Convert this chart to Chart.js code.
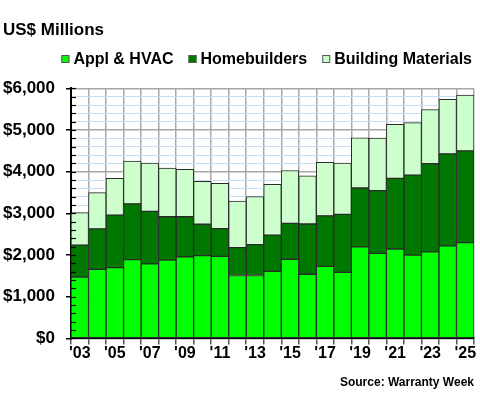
<!DOCTYPE html>
<html>
<head>
<meta charset="utf-8">
<script src="https://cdn.jsdelivr.net/npm/chart.js@4"></script>
<style>
  html, body { margin: 0; padding: 0; background: #fff; }
  #wrap { width: 480px; height: 400px; }
</style>
</head>
<body>
<div id="wrap"><canvas id="warrantyChart"></canvas></div>
<script>
// 数据
const years = ['2003','2004','2005','2006','2007','2008','2009','2010','2011','2012','2013','2014',
               '2015','2016','2017','2018','2019','2020','2021','2022','2023','2024','2025'];
const yearLabels = ["'03","","'05","","'07","","'09","","'11","","'13","","'15","","'17","","'19","","'21","","'23","","'25"];
const applHvac = [1470,1660,1700,1890,1790,1880,1960,1985,1970,1510,1510,1610,1900,1540,1730,1585,2195,2040,2145,2000,2075,2220,2300];
const homebuilders = [770,970,1260,1340,1260,1040,960,755,665,670,740,870,860,1205,1210,1390,1415,1505,1695,1920,2120,2210,2200];
const buildingMaterials = [780,870,880,1025,1155,1165,1140,1030,1085,1115,1155,1220,1270,1155,1285,1230,1205,1260,1300,1260,1295,1310,1340];
const yMax = 6000;
const yStep = 200;

const FONT = "'Liberation Sans', Arial, sans-serif";

// 绘制Y轴内侧小刻度
const innerTicks = {
    id: 'innerTicks',
    afterDatasetsDraw(chart) {
        const ctx = chart.ctx;
        const y = chart.scales.y;
        const x0 = y.right;
        ctx.save();
        ctx.strokeStyle = '#000';
        ctx.lineWidth = 1.2;
        y.ticks.forEach(t => {
            const py = Math.round(y.getPixelForValue(t.value)) + 0.5;
            ctx.beginPath();
            ctx.moveTo(x0, py);
            ctx.lineTo(x0 + 5, py);
            ctx.stroke();
        });
        ctx.restore();
    }
};

// 自定义图例（右对齐，紧凑间距）
const compactLegend = {
    id: 'compactLegend',
    afterDraw(chart) {
        const ctx = chart.ctx;
        const box = 8, gapText = 4, gapItem = 15;
        const rightEdge = 472, cy = 59;
        ctx.save();
        ctx.font = "bold 16px " + FONT;
        ctx.textBaseline = 'middle';
        const items = chart.data.datasets.map(ds => ({
            label: ds.label, color: ds.backgroundColor, w: ctx.measureText(ds.label).width
        }));
        const total = items.reduce((s, it) => s + box + gapText + it.w, 0) + gapItem * (items.length - 1);
        let x = rightEdge - total;
        items.forEach(it => {
            ctx.fillStyle = it.color;
            ctx.fillRect(x, cy - box / 2, box, box);
            ctx.strokeStyle = '#555';
            ctx.lineWidth = 1;
            ctx.strokeRect(x + 0.5, cy - box / 2 + 0.5, box - 1, box - 1);
            ctx.fillStyle = '#000';
            ctx.fillText(it.label, x + box + gapText, cy + 1);
            x += box + gapText + it.w + gapItem;
        });
        ctx.restore();
    }
};

new Chart(document.getElementById('warrantyChart'), {
    type: 'bar',
    data: {
        labels: years,
        datasets: [
            { label: 'Appl & HVAC', data: applHvac, backgroundColor: '#00ff00' },
            { label: 'Homebuilders', data: homebuilders, backgroundColor: '#007800' },
            { label: 'Building Materials', data: buildingMaterials, backgroundColor: '#ccffcc' }
        ].map(ds => Object.assign(ds, {
            borderColor: '#2a2a2a',
            borderWidth: 1,
            borderSkipped: false,
            barPercentage: 1,
            categoryPercentage: 1
        }))
    },
    options: {
        responsive: true,
        maintainAspectRatio: false,
        animation: false,
        layout: { padding: { left: 3, right: 6, top: 0, bottom: 4 } },
        scales: {
            x: {
                stacked: true,
                grid: { color: '#aaaaaa', lineWidth: 1.5, tickLength: 6, tickColor: '#555', offset: true },
                border: { color: '#000', width: 2 },
                ticks: {
                    autoSkip: false,
                    maxRotation: 0,
                    padding: 0,
                    color: '#000',
                    font: { family: FONT, size: 16, weight: 'bold' },
                    callback: (v, i) => yearLabels[i]
                }
            },
            y: {
                stacked: true,
                min: 0,
                max: yMax,
                afterFit: (scale) => { scale.width = 68; },
                grid: {
                    color: c => (c.tick && c.tick.value % 1000 === 0) ? '#a8a8a8' : '#c9def5',
                    lineWidth: c => (c.tick && c.tick.value % 1000 === 0) ? 1.5 : 1,
                    tickLength: 5,
                    tickColor: c => (c.tick && c.tick.value % 1000 === 0) ? '#000' : 'rgba(0,0,0,0)'
                },
                border: { color: '#000', width: 2 },
                ticks: {
                    stepSize: yStep,
                    autoSkip: false,
                    padding: 11,
                    color: '#000',
                    font: { family: FONT, size: 17, weight: 'bold' },
                    callback: v => v % 1000 === 0 ? '$' + v.toLocaleString('en-US') : ''
                }
            }
        },
        plugins: {
            title: {
                display: true,
                text: 'US$ Millions',
                align: 'start',
                color: '#000',
                font: { family: FONT, size: 17, weight: 'bold' },
                padding: { top: 20, bottom: 48 }
            },
            subtitle: {
                display: true,
                position: 'bottom',
                text: 'Source: Warranty Week',
                align: 'end',
                color: '#000',
                font: { family: FONT, size: 12, weight: 'bold' },
                padding: { top: 12, bottom: 6 }
            },
            legend: { display: false },
            tooltip: { enabled: false }
        }
    },
    plugins: [innerTicks, compactLegend]
});
</script>
</body>
</html>
